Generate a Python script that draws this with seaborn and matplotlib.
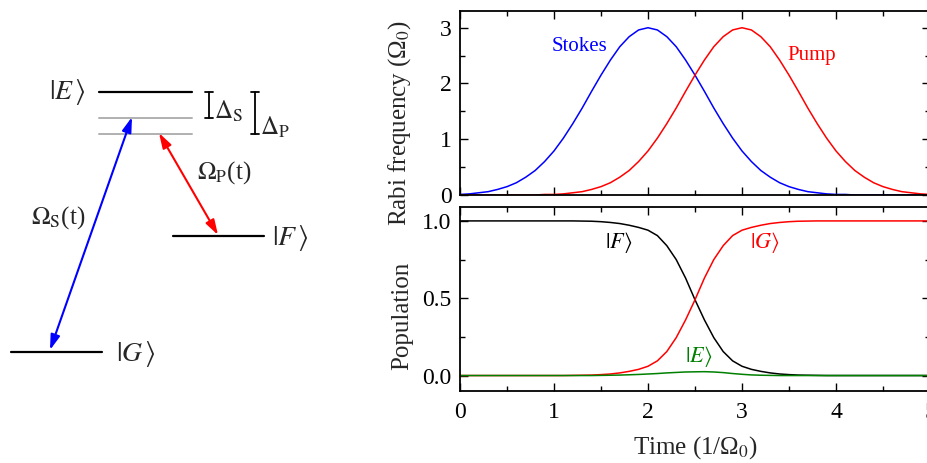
import matplotlib
matplotlib.use('Agg')
import pandas as pd
import seaborn as sns
import matplotlib.pyplot as plt
from matplotlib.ticker import MultipleLocator

# time grid (1/Omega_0)
time = [0.0, 0.1, 0.2, 0.3, 0.4, 0.5, 0.6, 0.7, 0.8, 0.9,
        1.0, 1.1, 1.2, 1.3, 1.4, 1.5, 1.6, 1.7, 1.8, 1.9,
        2.0, 2.1, 2.2, 2.3, 2.4, 2.5, 2.6, 2.7, 2.8, 2.9,
        3.0, 3.1, 3.2, 3.3, 3.4, 3.5, 3.6, 3.7, 3.8, 3.9,
        4.0, 4.1, 4.2, 4.3, 4.4, 4.5, 4.6, 4.7, 4.8, 4.9, 5.0]

# Rabi frequencies (Omega_0)
stokes = [0.01, 0.02, 0.04, 0.06, 0.10, 0.15, 0.22, 0.32, 0.44, 0.60,
          0.79, 1.02, 1.28, 1.56, 1.86, 2.15, 2.42, 2.66, 2.84, 2.96,
          3.00, 2.96, 2.84, 2.66, 2.42, 2.15, 1.86, 1.56, 1.28, 1.02,
          0.79, 0.60, 0.44, 0.32, 0.22, 0.15, 0.10, 0.06, 0.04, 0.02,
          0.01, 0.01, 0.00, 0.00, 0.00, 0.00, 0.00, 0.00, 0.00, 0.00, 0.00]
pump = [0.00, 0.00, 0.00, 0.00, 0.00, 0.00, 0.00, 0.00, 0.00, 0.01,
        0.01, 0.02, 0.04, 0.06, 0.10, 0.15, 0.22, 0.32, 0.44, 0.60,
        0.79, 1.02, 1.28, 1.56, 1.86, 2.15, 2.42, 2.66, 2.84, 2.96,
        3.00, 2.96, 2.84, 2.66, 2.42, 2.15, 1.86, 1.56, 1.28, 1.02,
        0.79, 0.60, 0.44, 0.32, 0.22, 0.15, 0.10, 0.06, 0.04, 0.02, 0.01]

# populations
pop_F = [1.000, 1.000, 1.000, 1.000, 1.000, 1.000, 1.000, 1.000, 1.000, 1.000,
         1.000, 1.000, 1.000, 0.999, 0.998, 0.995, 0.990, 0.983, 0.972, 0.958,
         0.940, 0.905, 0.840, 0.750, 0.630, 0.490, 0.360, 0.245, 0.155, 0.095,
         0.060, 0.040, 0.027, 0.017, 0.010, 0.006, 0.003, 0.002, 0.001, 0.000,
         0.000, 0.000, 0.000, 0.000, 0.000, 0.000, 0.000, 0.000, 0.000, 0.000, 0.000]
pop_G = [0.000, 0.000, 0.000, 0.000, 0.000, 0.000, 0.000, 0.000, 0.000, 0.000,
         0.000, 0.000, 0.001, 0.002, 0.003, 0.006, 0.010, 0.017, 0.027, 0.040,
         0.060, 0.095, 0.155, 0.245, 0.360, 0.490, 0.630, 0.750, 0.840, 0.905,
         0.940, 0.958, 0.972, 0.983, 0.990, 0.995, 0.998, 0.999, 1.000, 1.000,
         1.000, 1.000, 1.000, 1.000, 1.000, 1.000, 1.000, 1.000, 1.000, 1.000, 1.000]
pop_E = [0.000, 0.000, 0.000, 0.000, 0.000, 0.000, 0.000, 0.000, 0.000, 0.000,
         0.000, 0.000, 0.000, 0.000, 0.000, 0.001, 0.002, 0.003, 0.005, 0.007,
         0.010, 0.013, 0.017, 0.020, 0.023, 0.024, 0.025, 0.023, 0.019, 0.013,
         0.008, 0.004, 0.002, 0.001, 0.000, 0.000, 0.000, 0.000, 0.000, 0.000,
         0.000, 0.000, 0.000, 0.000, 0.000, 0.000, 0.000, 0.000, 0.000, 0.000, 0.000]

sns.set_style('ticks')
plt.rcParams['font.family'] = ['Liberation Serif', 'DejaVu Serif']
plt.rcParams['mathtext.fontset'] = 'stix'
plt.rcParams['axes.linewidth'] = 1.3


def style_axes(ax):
    ax.tick_params(which='both', direction='in', top=True, right=True,
                   labelsize=17, width=1.0, color='black', labelcolor='black')
    ax.tick_params(axis='y', pad=6)
    ax.tick_params(axis='x', pad=8)
    ax.tick_params(which='major', length=6)
    ax.tick_params(which='minor', length=3.5)
    ax.xaxis.set_major_locator(MultipleLocator(1))
    ax.xaxis.set_minor_locator(MultipleLocator(0.5))
    ax.set_xlim(0, 5)
    for s in ax.spines.values():
        s.set_color('black')


def draw_levels(ax):
    ax.set_xlim(0, 380)
    ax.set_ylim(463, 0)
    ax.axis('off')
    # energy levels
    ax.plot([99, 192], [92, 92], color='black', lw=1.6)
    ax.plot([99, 192], [118, 118], color='#b0b0b0', lw=1.4)
    ax.plot([99, 192], [134, 134], color='#b0b0b0', lw=1.4)
    ax.plot([173, 264], [236, 236], color='black', lw=1.6)
    ax.plot([11, 102], [352, 352], color='black', lw=1.6)
    ax.text(86, 92, r'$|E\,\rangle$', fontsize=20, ha='right', va='center')
    ax.text(272, 238, r'$|F\,\rangle$', fontsize=20, ha='left', va='center')
    ax.text(116, 354, r'$|G\,\rangle$', fontsize=20, ha='left', va='center')
    # couplings
    head = '<|-|>,head_length=0.9,head_width=0.28'
    ax.annotate('', xy=(132, 117), xytext=(50, 350),
                arrowprops=dict(arrowstyle=head, color='blue', lw=1.5,
                                shrinkA=0, shrinkB=0))
    ax.annotate('', xy=(159, 133), xytext=(218, 235),
                arrowprops=dict(arrowstyle=head, color='red', lw=1.5,
                                shrinkA=0, shrinkB=0))
    ax.text(58, 218, r'$\Omega_\mathrm{S}$(t)', fontsize=18, ha='center', va='center')
    ax.text(224, 173, r'$\Omega_\mathrm{P}$(t)', fontsize=18, ha='center', va='center')
    # detunings
    for x, y0, y1, lab in [(209, 92, 118, r'$\Delta_\mathrm{S}$'),
                           (255, 92, 134, r'$\Delta_\mathrm{P}$')]:
        ax.plot([x, x], [y0, y1], color='black', lw=1.3)
        ax.plot([x - 4, x + 4], [y0, y0], color='black', lw=1.3)
        ax.plot([x - 4, x + 4], [y1, y1], color='black', lw=1.3)
        ax.text(x + 5, y1 + 1, lab, fontsize=18, ha='left', va='baseline')


fig = plt.figure(figsize=(9.28, 4.63), dpi=100)
ax_d = fig.add_axes([0, 0, 380 / 928, 1])
draw_levels(ax_d)

ax_top = fig.add_axes([460 / 928, 1 - 195 / 463, 470 / 928, 184 / 463])
ax_bot = fig.add_axes([460 / 928, 1 - 391 / 463, 470 / 928, 184 / 463])

rabi = pd.DataFrame({
    'time': time * 2,
    'value': stokes + pump,
    'pulse': ['Stokes'] * len(time) + ['Pump'] * len(time),
})
sns.lineplot(data=rabi, x='time', y='value', hue='pulse', estimator=None,
             palette={'Stokes': 'blue', 'Pump': 'red'}, lw=1.1, legend=False, ax=ax_top)
style_axes(ax_top)
ax_top.set_ylim(0, 3.3)
ax_top.yaxis.set_major_locator(MultipleLocator(1))
ax_top.yaxis.set_minor_locator(MultipleLocator(0.5))
ax_top.tick_params(labelbottom=False)
ax_top.set_xlabel('')
ax_top.set_ylabel('Rabi frequency (Ω$_0$)', fontsize=18)
ax_top.yaxis.set_label_coords(-0.10, 0.39)
ax_top.text(1.27, 2.66, 'Stokes', color='blue', fontsize=15, ha='center', va='center')
ax_top.text(3.74, 2.51, 'Pump', color='red', fontsize=15, ha='center', va='center')

pops = pd.DataFrame({
    'time': time * 3,
    'value': pop_F + pop_G + pop_E,
    'state': ['F'] * len(time) + ['G'] * len(time) + ['E'] * len(time),
})
sns.lineplot(data=pops, x='time', y='value', hue='state', estimator=None,
             palette={'F': 'black', 'G': 'red', 'E': 'green'}, lw=1.1, legend=False, ax=ax_bot)
style_axes(ax_bot)
ax_bot.set_ylim(-0.1, 1.09)
ax_bot.yaxis.set_major_locator(MultipleLocator(0.5))
ax_bot.yaxis.set_minor_locator(MultipleLocator(0.25))
ax_bot.yaxis.set_major_formatter(plt.FormatStrFormatter('%.1f'))
ax_bot.set_xlabel('Time (1/Ω$_0$)', fontsize=18, labelpad=8)
ax_bot.set_ylabel('Population', fontsize=18)
ax_bot.yaxis.set_label_coords(-0.10, 0.41)
ax_bot.text(1.69, 0.86, r'$|F\rangle$', color='black', fontsize=16, ha='center', va='center')
ax_bot.text(3.24, 0.86, r'$|G\rangle$', color='red', fontsize=16, ha='center', va='center')
ax_bot.text(2.54, 0.12, r'$|E\rangle$', color='green', fontsize=16, ha='center', va='center')

fig.savefig('out.png', dpi=100)
